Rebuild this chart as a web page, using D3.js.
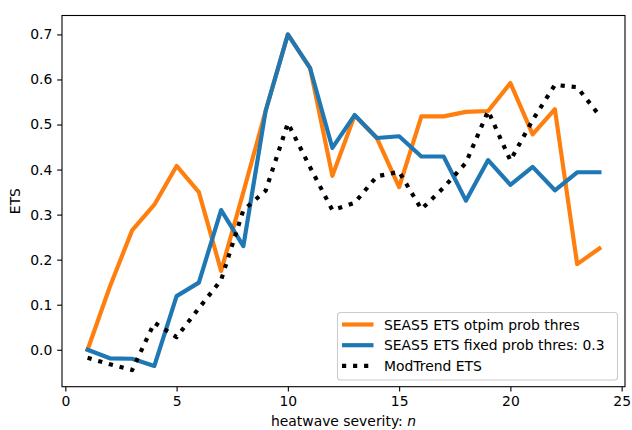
<!DOCTYPE html>
<html lang="en">
<head>
    <meta charset="UTF-8">
    <script src="https://d3js.org/d3.v7.min.js"></script>
    <style>
        body { margin: 0; background: #fff; }
        svg { display: block; font-family: "DejaVu Sans", sans-serif; }
    </style>
    <title>ETS vs heatwave severity</title>
</head>
<body>
    <script type="text/javascript">
    // heatwave severity n = 1..24
    const severity = d3.range(1, 25);

    const seas5Optim = [0.0, 0.14, 0.265, 0.322, 0.408, 0.35, 0.175, 0.35, 0.53, 0.70, 0.625, 0.386,
        0.52, 0.47, 0.361, 0.518, 0.518, 0.528, 0.53, 0.592, 0.478, 0.534, 0.19, 0.225];
    const seas5Fixed = [0.0, -0.019, -0.02, -0.036, 0.119, 0.149, 0.31, 0.23, 0.53, 0.70, 0.625, 0.448,
        0.521, 0.47, 0.474, 0.429, 0.429, 0.331, 0.421, 0.366, 0.406, 0.354, 0.394, 0.394];
    const modTrend = [-0.018, -0.032, -0.045, 0.06, 0.028, 0.092, 0.155, 0.31, 0.353, 0.503, 0.405, 0.31,
        0.326, 0.385, 0.395, 0.312, 0.36, 0.415, 0.53, 0.42, 0.51, 0.588, 0.583, 0.52];

    const seriesNames = ["SEAS5 ETS otpim prob thres", "SEAS5 ETS fixed prob thres: 0.3", "ModTrend ETS"];
    const xTicks = [0, 5, 10, 15, 20, 25];
    const yTicks = [0.0, 0.1, 0.2, 0.3, 0.4, 0.5, 0.6, 0.7];

    const w = 632, h = 430;
    const mLeft = 62, mRight = 625, mTop = 15.5, mBottom = 386.7;
    const fs = 13.9;

    const x = d3.scaleLinear([-0.15, 25.15], [mLeft, mRight]);
    const y = d3.scaleLinear([-0.082, 0.742], [mBottom, mTop]);

    const svg = d3.select("body").append("svg")
        .attr("width", w)
        .attr("height", h);

    const series = [
        { name: seriesNames[0], values: seas5Optim, color: "#ff7f0e", dash: null },
        { name: seriesNames[1], values: seas5Fixed, color: "#1f77b4", dash: null },
        { name: seriesNames[2], values: modTrend, color: "#000000", dash: "4.17,6.88" }
    ];

    const line = d3.line()
        .x(function(d) { return x(d[0]); })
        .y(function(d) { return y(d[1]); });

    const plot = svg.append("g");
    series.forEach(function(s) {
        plot.append("path")
            .datum(severity.map(function(n, i) { return [n, s.values[i]]; }))
            .attr("d", line)
            .attr("fill", "none")
            .attr("stroke", s.color)
            .attr("stroke-width", 4.17)
            .attr("stroke-linejoin", "round")
            .attr("stroke-linecap", s.dash ? "butt" : "square")
            .attr("stroke-dasharray", s.dash);
    });

    // axes
    const xAxis = svg.append("g")
        .attr("transform", "translate(0," + mBottom + ")")
        .call(d3.axisBottom(x).tickValues(xTicks).tickFormat(d3.format("d"))
            .tickSizeInner(4.86).tickSizeOuter(0).tickPadding(4.86));
    const yAxis = svg.append("g")
        .attr("transform", "translate(" + mLeft + ",0)")
        .call(d3.axisLeft(y).tickValues(yTicks).tickFormat(d3.format(".1f"))
            .tickSizeInner(4.86).tickSizeOuter(0).tickPadding(4.86));

    [xAxis, yAxis].forEach(function(a) {
        a.select(".domain").remove();
        a.selectAll(".tick line").attr("stroke", "#000").attr("stroke-width", 1.1);
        a.selectAll(".tick text")
            .attr("fill", "#000")
            .attr("font-size", fs + "px")
            .attr("font-family", "DejaVu Sans, sans-serif");
    });

    // frame
    svg.append("rect")
        .attr("x", mLeft)
        .attr("y", mTop)
        .attr("width", mRight - mLeft)
        .attr("height", mBottom - mTop)
        .attr("fill", "none")
        .attr("stroke", "#000")
        .attr("stroke-width", 1.1);

    // axis labels
    const xl = svg.append("text")
        .attr("x", (mLeft + mRight) / 2)
        .attr("y", 426)
        .attr("text-anchor", "middle")
        .attr("font-size", fs + "px");
    xl.append("tspan").text("heatwave severity: ");
    xl.append("tspan").attr("font-style", "italic").text("n");

    svg.append("text")
        .attr("transform", "translate(20," + (mTop + mBottom) / 2 + ") rotate(-90)")
        .attr("text-anchor", "middle")
        .attr("font-size", fs + "px")
        .text("ETS");

    // legend
    const lg = svg.append("g").attr("transform", "translate(337.5,312.5)");
    lg.append("rect")
        .attr("width", 280)
        .attr("height", 67.5)
        .attr("rx", 3)
        .attr("fill", "#fff")
        .attr("fill-opacity", 0.8)
        .attr("stroke", "#ccc")
        .attr("stroke-width", 1.1);

    series.forEach(function(s, i) {
        const cy = 12 + i * 20.7;
        lg.append("line")
            .attr("x1", 4.5)
            .attr("x2", 36)
            .attr("y1", cy)
            .attr("y2", cy)
            .attr("stroke", s.color)
            .attr("stroke-width", 4.17)
            .attr("stroke-dasharray", s.dash);
        lg.append("text")
            .attr("x", 46.5)
            .attr("y", cy + 5)
            .attr("font-size", fs + "px")
            .text(s.name);
    });
    </script>
</body>
</html>
